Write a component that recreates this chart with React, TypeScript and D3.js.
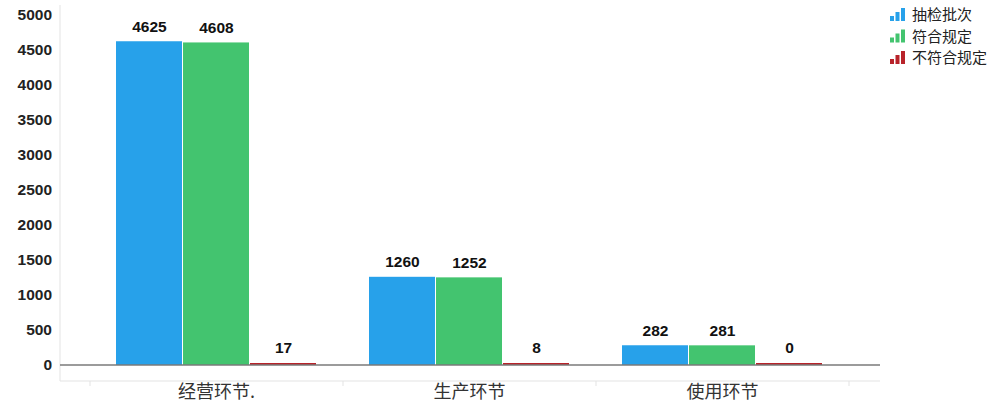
import React from "react";
import * as d3 from "d3";

const categories = ["经营环节.", "生产环节", "使用环节"];
const seriesNames = ["抽检批次", "符合规定", "不符合规定"];
const seriesColors = ["#27a1ea", "#43c46f", "#b8232a"];
const inspected = [4625, 1260, 282];
const compliant = [4608, 1252, 281];
const nonCompliant = [17, 8, 0];
const seriesValues = [inspected, compliant, nonCompliant];
const yTicks = [0, 500, 1000, 1500, 2000, 2500, 3000, 3500, 4000, 4500, 5000];

const W = 1006;
const H = 416;

export default function App() {
  const y = d3.scaleLinear().domain([0, 5000]).range([365, 15]);
  const x0 = d3.scaleBand<string>().domain(categories).range([90, 849]).paddingInner(0).paddingOuter(0);
  const inner = 201;
  const x1 = d3
    .scaleBand<number>()
    .domain([0, 1, 2])
    .range([0, inner])
    .paddingInner(0);
  const bandOffset = (x0.bandwidth() - inner) / 2;
  const bandEdges = [...categories.map((c) => x0(c)!), x0.range()[1]];

  return (
    <div style={{ position: "fixed", left: 0, top: 0 }}>
      <svg width={W} height={H} style={{ display: "block", background: "#fff" }}>
        {/* left axis line */}
        <line x1={60} x2={60} y1={5} y2={381} stroke="#e3e3e3" strokeWidth={1} />
        {/* category axis line */}
        <line x1={60} x2={880} y1={381} y2={381} stroke="#e3e3e3" strokeWidth={1} />
        {bandEdges.map((e, i) => (
          <line key={i} x1={e} x2={e} y1={381} y2={386} stroke="#e3e3e3" strokeWidth={1} />
        ))}
        {/* y tick labels */}
        {yTicks.map((t) => (
          <text
            key={t}
            x={52}
            y={y(t)}
            dy="0.35em"
            textAnchor="end"
            fontFamily="Arial, 'Liberation Sans', sans-serif"
            fontWeight="bold"
            fontSize={15.5}
            fill="#222"
          >
            {t}
          </text>
        ))}
        {/* bars */}
        {categories.map((c, ci) => (
          <g key={c} transform={`translate(${x0(c)! + bandOffset},0)`}>
            {seriesValues.map((vals, si) => {
              const v = vals[ci];
              const top = y(v);
              const h = Math.max(y(0) - top, 2);
              const bx = x1(si)!;
              return (
                <g key={si}>
                  <rect
                    x={bx}
                    y={y(0) - h}
                    width={x1.bandwidth() - 1}
                    height={h}
                    fill={seriesColors[si]}
                  />
                  <text
                    x={bx + x1.bandwidth() / 2}
                    y={y(0) - h - 15}
                    dy="0.35em"
                    textAnchor="middle"
                    fontFamily="Arial, 'Liberation Sans', sans-serif"
                    fontWeight="bold"
                    fontSize={15.5}
                    fill="#111"
                  >
                    {v}
                  </text>
                </g>
              );
            })}
          </g>
        ))}
        {/* zero line */}
        <line x1={60} x2={880} y1={y(0)} y2={y(0)} stroke="#7a7a7a" strokeWidth={1.5} />
        {/* category labels */}
        {categories.map((c) => (
          <text
            key={c}
            x={x0(c)! + x0.bandwidth() / 2}
            y={392}
            dy="0.35em"
            textAnchor="middle"
            fontFamily="'Noto Sans CJK SC', sans-serif"
            fontSize={18}
            fill="#333"
          >
            {c}
          </text>
        ))}
        {/* legend */}
        {seriesNames.map((n, i) => {
          const cy = 15 + i * 21.5;
          return (
            <g key={n} transform={`translate(890,${cy})`}>
              {[5, 9, 13].map((hh, k) => (
                <rect key={k} x={k * 5.5} y={6 - hh} width={4} height={hh} fill={seriesColors[i]} />
              ))}
              <text
                x={22}
                y={0}
                dy="0.35em"
                fontFamily="'Noto Sans CJK SC', sans-serif"
                fontSize={15}
                fill="#222"
              >
                {n}
              </text>
            </g>
          );
        })}
      </svg>
    </div>
  );
}
